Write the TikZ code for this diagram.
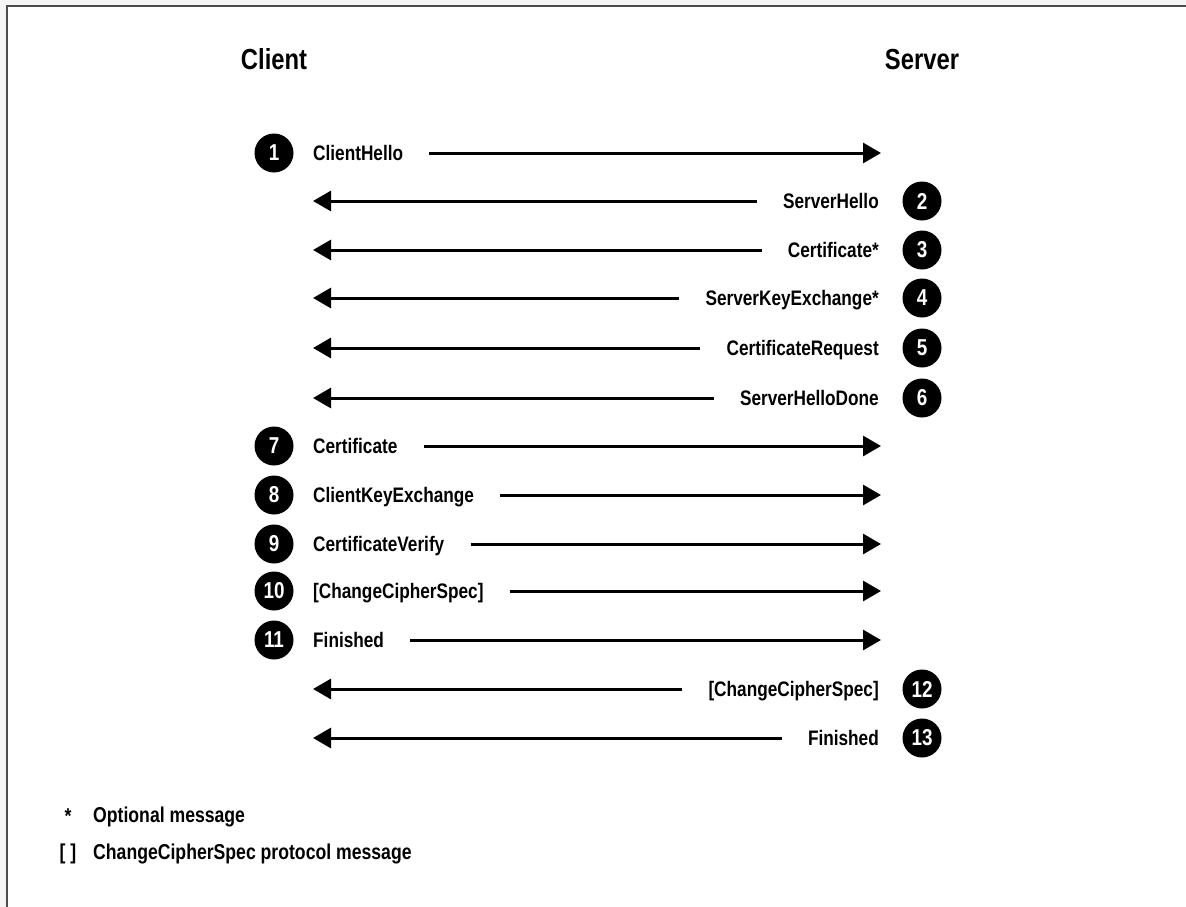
\documentclass[tikz,border=0pt]{standalone}
\usepackage{fontspec}
\setmainfont{Liberation Sans}[FakeStretch=0.82]
\usetikzlibrary{arrows.meta}
\begin{document}
\begin{tikzpicture}[x=1pt,y=-1pt,
  numc/.style={circle,fill=black,text=white,minimum size=39pt,inner sep=0pt,
    font=\fontsize{23}{23}\selectfont\bfseries},
  hdr/.style={anchor=base,font=\fontsize{29}{29}\selectfont\bfseries},
  lblL/.style={anchor=base west,inner sep=0pt,font=\fontsize{21}{21}\selectfont\bfseries},
  lblR/.style={anchor=base east,inner sep=0pt,font=\fontsize{21}{21}\selectfont\bfseries},
  leg/.style={anchor=base west,inner sep=0pt,font=\fontsize{21.5}{21.5}\selectfont\bfseries},
  msg/.style={line width=3pt,-{Triangle[length=18pt,width=20pt]}}]
\useasboundingbox (0,0) rectangle (1186,907);
\fill[black!4] (0,0) rectangle (1186,6);
\fill[black!4] (0,0) rectangle (7,907);
\draw[line width=2pt,black!70] (7,907) -- (7,6) -- (1186,6);
\node[hdr] (client) at (274,70) {Client};
\node[hdr] (server) at (922,70) {Server};
% client to server
\foreach \n/\t/\y in {1/ClientHello/153, 7/Certificate/446, 8/ClientKeyExchange/495,
  9/CertificateVerify/544, 10/{[ChangeCipherSpec]}/591, 11/Finished/640}{
  \node[numc] (c\n) at (274,\y) {\n};
  \node[lblL] (t\n) at (313,\y+7.5) {\t};
  \coordinate (e\n) at (881,\y);
  \draw[msg] ([xshift=26pt]t\n.base east |- e\n) -- (e\n);
}
% server to client
\foreach \n/\t/\y in {2/ServerHello/201, 3/Certificate*/250, 4/ServerKeyExchange*/298,
  5/CertificateRequest/348, 6/ServerHelloDone/398, 12/{[ChangeCipherSpec]}/689, 13/Finished/738}{
  \node[numc] (c\n) at (922,\y) {\n};
  \node[lblR] (t\n) at (879,\y+7.5) {\t};
  \coordinate (e\n) at (313,\y);
  \draw[msg] ([xshift=-26pt]t\n.base west |- e\n) -- (e\n);
}
% legend
\node[leg,anchor=base] (star) at (68,823) {*};
\node[leg] (opt) at (93,822.5) {Optional message};
\node[leg,anchor=base] (brk) at (68,859.5) {[ ]};
\node[leg] (ccs) at (93,859.5) {ChangeCipherSpec protocol message};
\end{tikzpicture}
\end{document}
